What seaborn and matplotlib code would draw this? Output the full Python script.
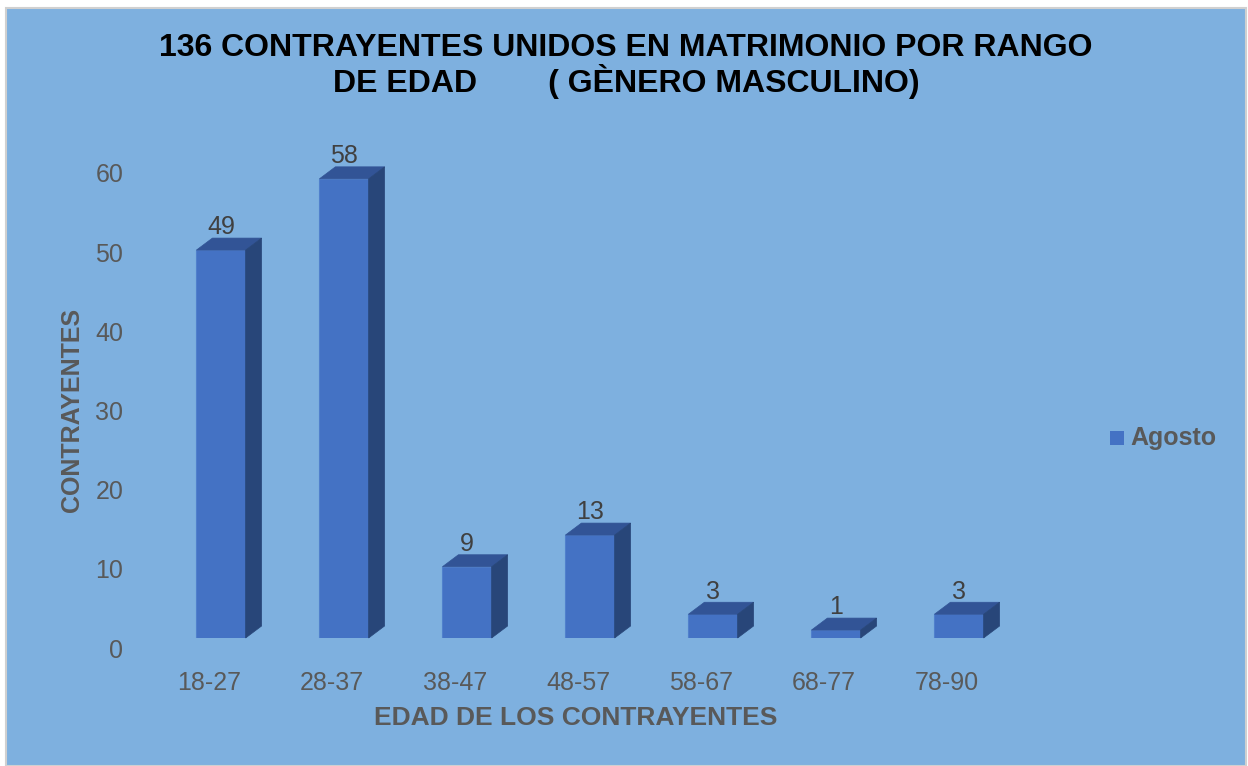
import matplotlib
matplotlib.use("Agg")
import matplotlib.pyplot as plt
import matplotlib.transforms as mtransforms
from matplotlib.patches import Polygon, Rectangle
import pandas as pd
import seaborn as sns

# datos
rangos = ["18-27", "28-37", "38-47", "48-57", "58-67", "68-77", "78-90"]
agosto = [49, 58, 9, 13, 3, 1, 3]
serie = "Agosto"

titulo = "136 CONTRAYENTES UNIDOS EN MATRIMONIO POR RANGO\nDE EDAD        ( GÈNERO MASCULINO)"
eje_x = "EDAD DE LOS CONTRAYENTES"
eje_y = "CONTRAYENTES"

df = pd.DataFrame({"Rango": rangos, "Contrayentes": agosto, "Mes": serie})

fondo = "#7EB0DF"
frente = "#4472C4"
tapa = "#325496"
lado = "#284679"
gris = "#595959"

sns.set_style("white")
plt.rcParams["font.family"] = ["Liberation Sans", "DejaVu Sans"]

W, H = 1248, 766
fig = plt.figure(figsize=(W / 100, H / 100), dpi=100, facecolor="white")
fig.patches.append(Rectangle((6 / W, 0), 1240 / W, 1 - 8 / H, transform=fig.transFigure,
                             facecolor=fondo, edgecolor="#D0D0D0", linewidth=1.5, zorder=-10))

# area del grafico (px)
x0, x1 = 159.5, 1020.5
y_base, y_top = 638, 163
ax = fig.add_axes([x0 / W, 1 - y_base / H, (x1 - x0) / W, (y_base - y_top) / H])
ax.set_facecolor("none")

sns.barplot(data=df, x="Rango", y="Contrayentes", hue="Mes", palette=[frente],
            saturation=1, width=0.4, ax=ax, edgecolor="#5080CC", linewidth=0.8, legend=False)
ax.set_xlim(-0.5, len(rangos) - 0.5)
ax.set_ylim(0, 60)
ax.set_yticks(range(0, 61, 10))

# efecto 3D
dx_px, dy_px = 16, 12
sx = (len(rangos)) / (x1 - x0)
sy = 60 / (y_base - y_top)
ddx, ddy = dx_px * sx, dy_px * sy
for p, v in zip(ax.patches, agosto):
    xl, w, h = p.get_x(), p.get_width(), p.get_height()
    xr = xl + w
    ax.add_patch(Polygon([(xl, h), (xr, h), (xr + ddx, h + ddy), (xl + ddx, h + ddy)],
                         closed=True, facecolor=tapa, edgecolor=tapa, linewidth=0.5, clip_on=False))
    ax.add_patch(Polygon([(xr, 0), (xr + ddx, ddy), (xr + ddx, h + ddy), (xr, h)],
                         closed=True, facecolor=lado, edgecolor=lado, linewidth=0.5, clip_on=False))
    ax.annotate(str(v), (xl + w / 2, h + ddy), xytext=(0, -1), textcoords="offset points",
                ha="center", va="bottom", fontsize=18, color="#404040", annotation_clip=False)

sns.despine(ax=ax, left=True, bottom=True)
ax.tick_params(axis="both", length=0, labelsize=18, labelcolor=gris)
ax.tick_params(axis="y", pad=26)
ax.tick_params(axis="x", pad=24)
for lab in ax.get_yticklabels():
    lab.set_transform(lab.get_transform() + mtransforms.ScaledTranslation(0, -10 / 100, fig.dpi_scale_trans))
for lab in ax.get_xticklabels():
    lab.set_transform(lab.get_transform() + mtransforms.ScaledTranslation(-12 / 100, 0, fig.dpi_scale_trans))

ax.set_xlabel(eje_x, fontsize=19, fontweight="bold", color=gris)
ax.xaxis.set_label_coords((576 - x0) / (x1 - x0), -(718 - y_base) / (y_base - y_top))
ax.xaxis.label.set_va("center")
ax.set_ylabel(eje_y, fontsize=18, fontweight="bold", color=gris)
ax.yaxis.set_label_coords((72 - x0) / (x1 - x0), (y_base - 410) / (y_base - y_top))
ax.yaxis.label.set_va("center")

fig.text(626 / W, 1 - 66 / H, titulo, ha="center", va="center", fontsize=23,
         fontweight="bold", color="black", linespacing=1.05)

# leyenda
fig.patches.append(Rectangle((1110 / W, 1 - 445 / H), 14 / W, 14 / H, transform=fig.transFigure,
                             facecolor=frente, edgecolor="none"))
fig.text(1130 / W, 1 - 438 / H, serie, ha="left", va="center", fontsize=18,
         fontweight="bold", color=gris)

fig.savefig("out.png", dpi=100, facecolor=fig.get_facecolor())
